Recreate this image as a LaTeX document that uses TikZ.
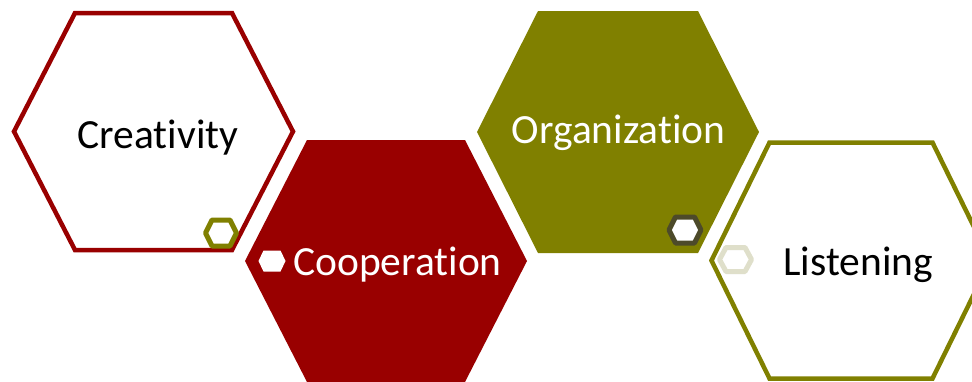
\documentclass[tikz,border=0pt]{standalone}
\usepackage{fontspec}
\setmainfont{Carlito}[RawFeature={-liga;-clig}]
\definecolor{dred}{HTML}{990000}
\definecolor{olv}{HTML}{808000}
\definecolor{olvdark}{HTML}{4D4A2A}
\definecolor{olvlight}{HTML}{DFDFCA}
% #1 style, #2 centre, #3 half width, #4 half height, #5 corner inset
\newcommand\myhex[5]{\path[#1,shift={(#2)}] (-#3,0) -- (-#3+#5,-#4) -- (#3-#5,-#4) -- (#3,0) -- (#3-#5,#4) -- (-#3+#5,#4) -- cycle;}
\tikzset{
  lbl/.style={inner sep=0pt,anchor=base,font=\fontsize{41.5}{48}\selectfont},
  bigline/.style={draw=#1,line width=4.5pt,line join=miter,fill=white},
  bigfill/.style={fill=#1},
  smallline/.style={draw=#1,line width=5pt,line join=round,fill=white},
}
\begin{document}
\begin{tikzpicture}[x=1pt,y=-1pt]
\useasboundingbox (0,0) rectangle (972,381);
\clip (0,0) rectangle (972,381);
\coordinate (c1) at (153.5,131.5);
\coordinate (c2) at (386,261);
\coordinate (c3) at (618,132);
\coordinate (c4) at (851,260.5);
\coordinate (s1) at (221,233);
\coordinate (s2) at (272,261);
\coordinate (s3) at (685,230);
\coordinate (s4) at (735.5,259.5);
% large hexagons
\myhex{bigline=dred}{c1}{139.5}{118.5}{61}
\myhex{bigfill=dred}{c2}{141}{121}{62}
\myhex{bigfill=olv}{c3}{141}{121}{61}
\myhex{bigline=olv}{c4}{139.5}{118}{58}
% small hexagons
\myhex{smallline=olv}{s1}{15.5}{13}{6.5}
\myhex{fill=white}{s2}{13.5}{10.5}{5}
\myhex{smallline=olvdark}{s3}{16}{13}{6.5}
\myhex{smallline=olvlight}{s4}{16}{12}{6.5}
% labels
\node[lbl,text=black] (t1) at (158,148.3) {Creativity};
\node[lbl,text=white] (t2) at (397.5,275) {Cooperation};
\node[lbl,text=white] (t3) at (618.7,143.3) {Organization};
\node[lbl,text=black] (t4) at (858.3,275) {Listening};
\end{tikzpicture}
\end{document}
